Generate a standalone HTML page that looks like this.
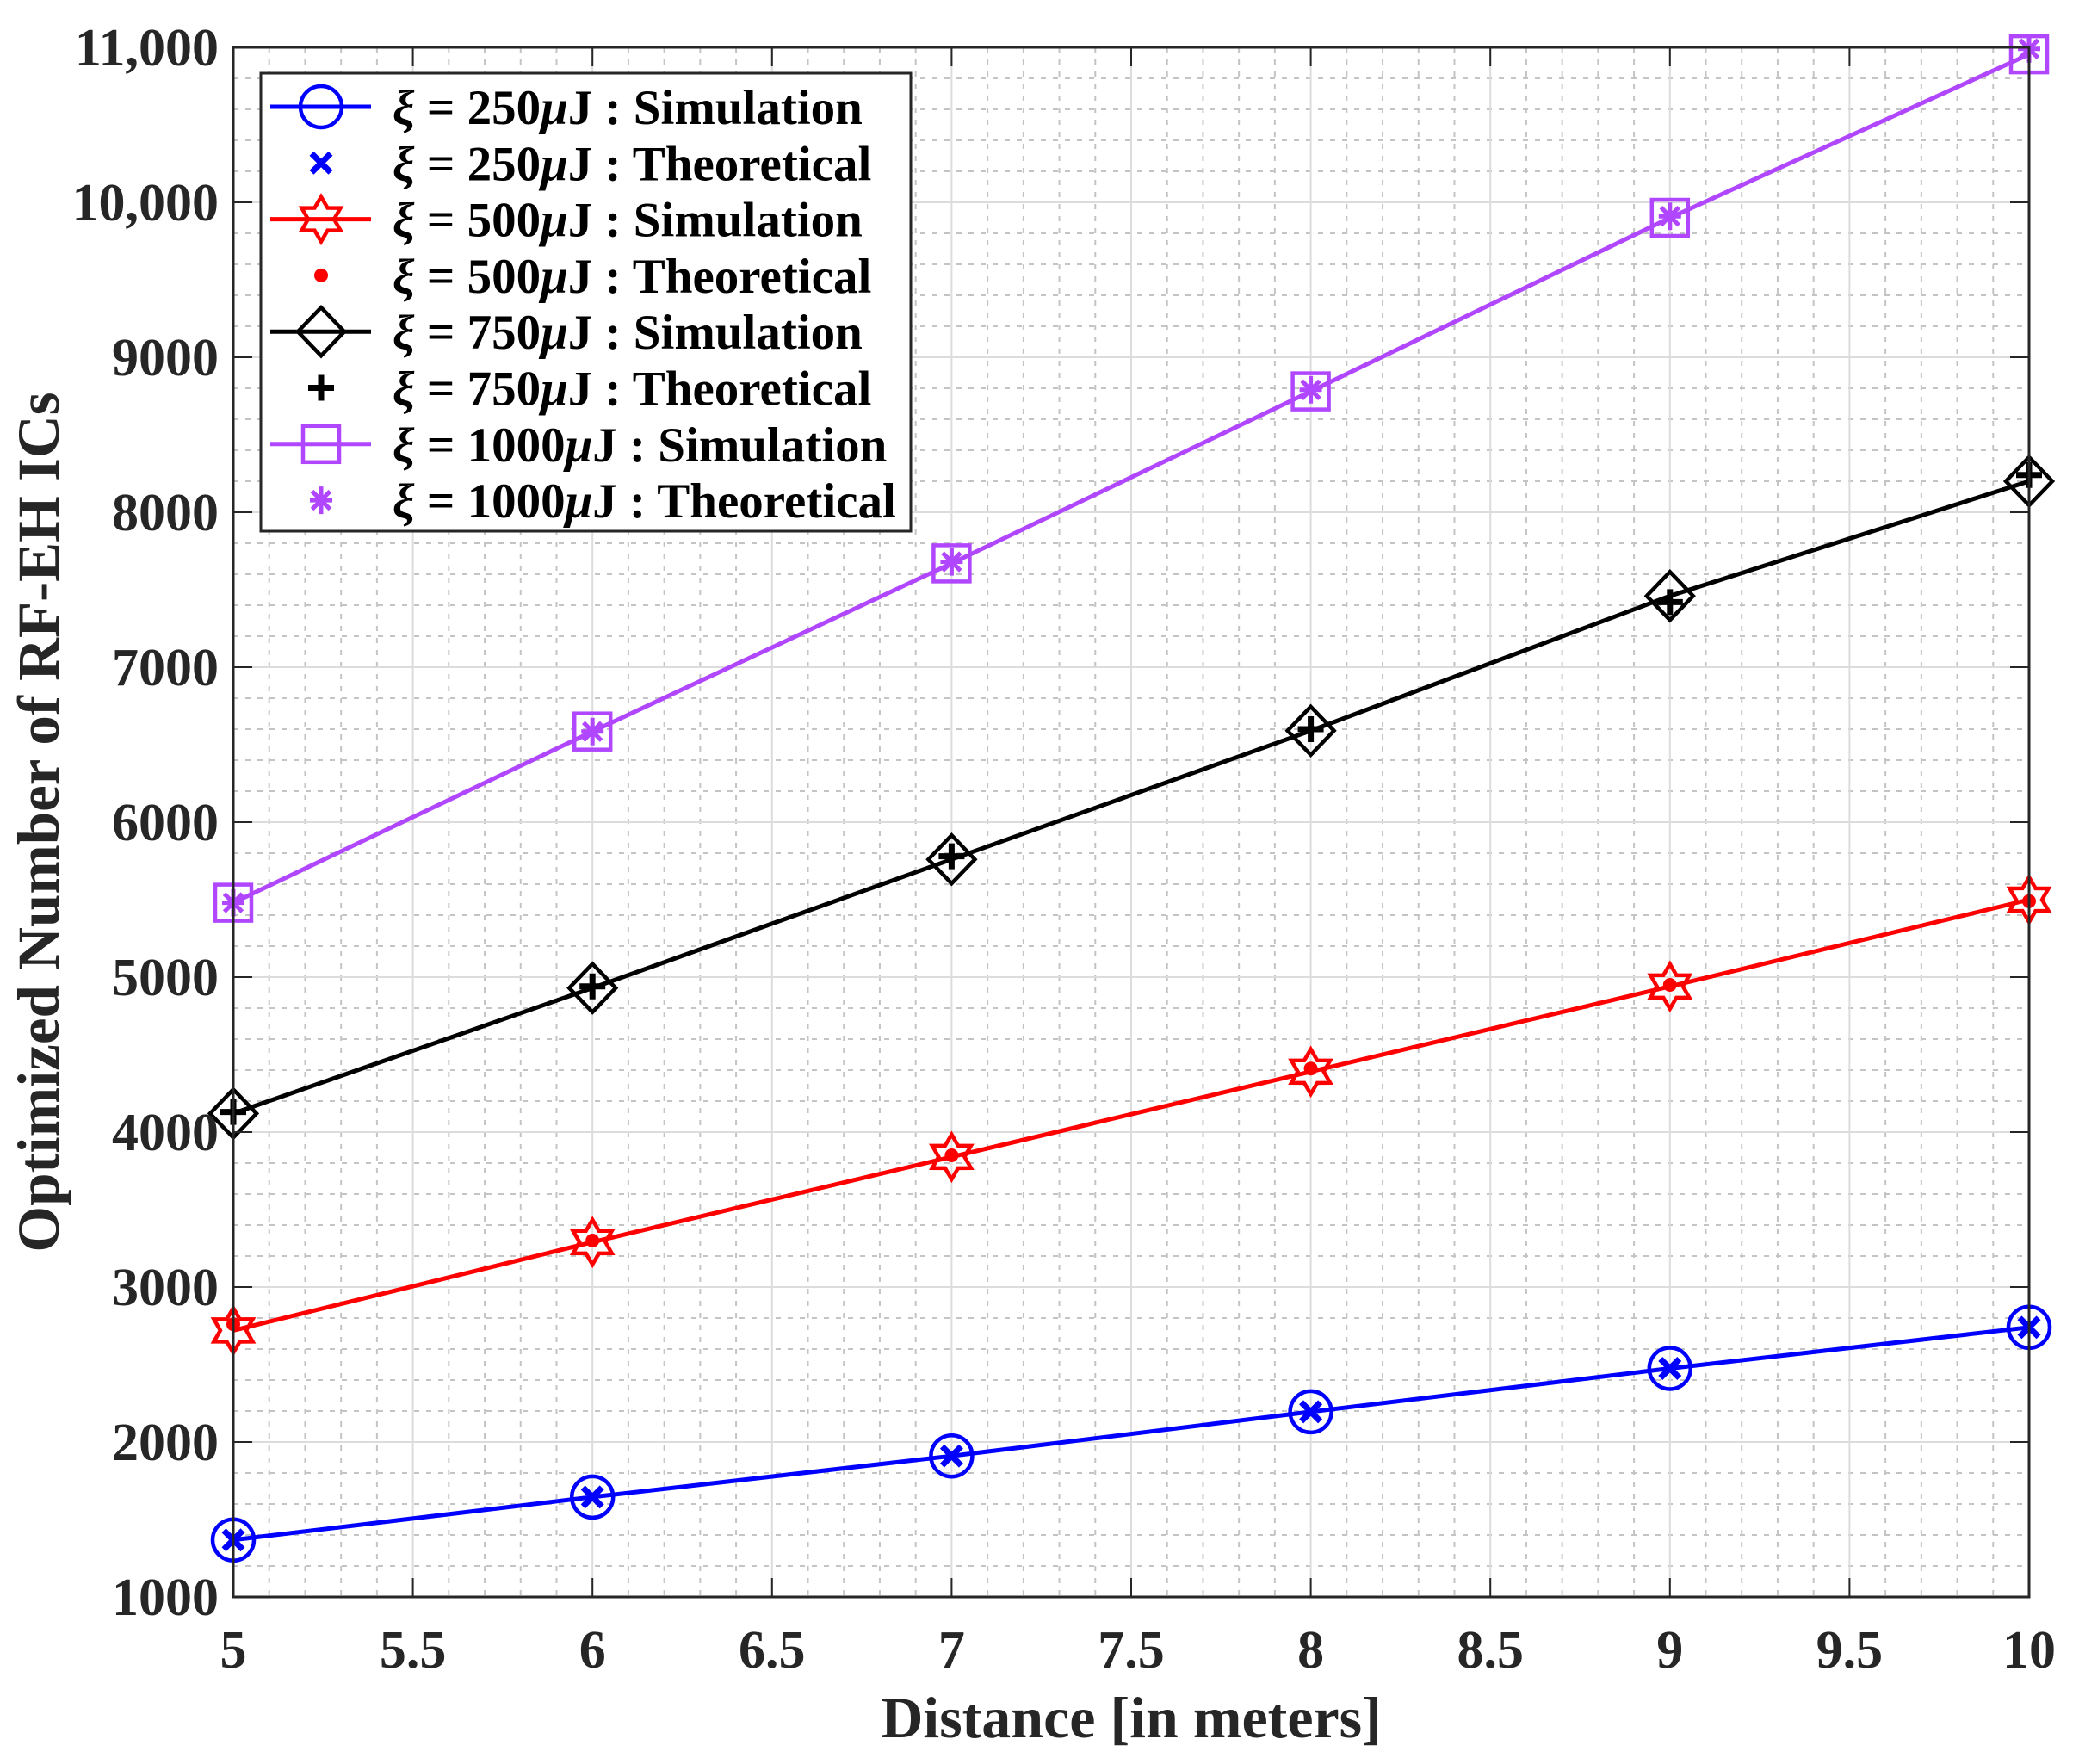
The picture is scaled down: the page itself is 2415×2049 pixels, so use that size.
<!DOCTYPE html>
<html><head><meta charset="utf-8"><style>
html,body{margin:0;padding:0;background:#fff}
svg text{font-family:"Liberation Serif",serif;font-weight:bold;fill:#262626}
</style></head><body>
<svg id="chart" width="2415" height="2044" viewBox="0 0 2415 2044" xmlns="http://www.w3.org/2000/svg">
<g id="grid"></g>
<g id="series"></g>
<g id="axes"></g>
<text x="1314" y="2018" font-size="68" text-anchor="middle">Distance [in meters]</text>
<text transform="translate(68,955) rotate(-90)" font-size="69" text-anchor="middle">Optimized Number of RF-EH ICs</text>
<g id="legend"></g>
</svg>
<script>
const xs = [5, 6, 7, 8, 9, 10];
const simBlue = [1368, 1645, 1910, 2195, 2475, 2740];
const thBlue = [1368, 1645, 1910, 2195, 2475, 2740];
const simRed = [2720, 3290, 3840, 4390, 4940, 5500];
const thRed = [2760, 3300, 3850, 4410, 4950, 5490];
const simBlack = [4120, 4930, 5760, 6590, 7460, 8200];
const thBlack = [4130, 4940, 5780, 6600, 7420, 8240];
const simPurple = [5480, 6585, 7670, 8780, 9900, 10955];
const thPurple = [5480, 6585, 7680, 8790, 9910, 10990];
const xTicks = [5, 5.5, 6, 6.5, 7, 7.5, 8, 8.5, 9, 9.5, 10];
const yTicks = [1000, 2000, 3000, 4000, 5000, 6000, 7000, 8000, 9000, 10000, 11000];
const yTickLabels = ["1000","2000","3000","4000","5000","6000","7000","8000","9000","10,000","11,000"];

const L=271,R=2357,T=55,B=1855;
const sx=v=>L+(v-5)/5*(R-L);
const sy=v=>B-(v-1000)/10000*(B-T);
const NS="http://www.w3.org/2000/svg";
function mk(tag,attrs,parent){const e=document.createElementNS(NS,tag);for(const k in attrs)e.setAttribute(k,attrs[k]);parent.appendChild(e);return e;}
const grid=document.getElementById('grid'),axes=document.getElementById('axes'),ser=document.getElementById('series'),leg=document.getElementById('legend');

for(let i=0;i<=50;i++){const v=5+i*0.1;if(i%5===0)continue;const x=sx(v);
 const l=mk('line',{x1:x,x2:x,y1:T,y2:B,stroke:'#c4c4c4','stroke-width':2,'stroke-dasharray':'6,8'},grid);
 
 }
for(let i=0;i<=50;i++){const v=1000+i*200;if(i%5===0)continue;const y=sy(v);
 const l=mk('line',{x1:L,x2:R,y1:y,y2:y,stroke:'#c4c4c4','stroke-width':2,'stroke-dasharray':'6,8'},grid);
 
 }
xTicks.forEach(v=>{const x=sx(v);
 const l=mk('line',{x1:x,x2:x,y1:T,y2:B,stroke:'#dcdcdc','stroke-width':2},grid);
 
 
 mk('line',{x1:x,x2:x,y1:B,y2:B-22,stroke:'#262626','stroke-width':2},axes);
 mk('line',{x1:x,x2:x,y1:T,y2:T+22,stroke:'#262626','stroke-width':2},axes);
 const t=mk('text',{x:x,y:1937,'font-size':62,'text-anchor':'middle'},axes);t.textContent=String(v);
 
 });
yTicks.forEach((v,i)=>{const y=sy(v);
 const l=mk('line',{x1:L,x2:R,y1:y,y2:y,stroke:'#dcdcdc','stroke-width':2},grid);
 
 
 mk('line',{x1:L,x2:L+22,y1:y,y2:y,stroke:'#262626','stroke-width':2},axes);
 mk('line',{x1:R,x2:R-22,y1:y,y2:y,stroke:'#262626','stroke-width':2},axes);
 const t=mk('text',{x:254,y:y+21,'font-size':62,'text-anchor':'end'},axes);t.textContent=yTickLabels[i];
 
 });
const fr=mk('rect',{x:L,y:T,width:R-L,height:B-T,fill:'none',stroke:'#262626','stroke-width':3},axes);



function marker(type,x,y,color,parent){
 const g=mk('g',{},parent);
 const sw=4.5;
 if(type==='circle')mk('circle',{cx:x,cy:y,r:24,fill:'none',stroke:color,'stroke-width':sw},g);
 if(type==='x'){const s=11;mk('path',{d:`M${x-s},${y-s}L${x+s},${y+s}M${x-s},${y+s}L${x+s},${y-s}`,stroke:color,'stroke-width':7},g);}
 if(type==='star'){const r=26;
   let pts=[];for(let k=0;k<12;k++){const a=-Math.PI/2+k*Math.PI/6;const rr=k%2===0?r:r*0.58;pts.push((x+rr*Math.cos(a))+','+(y+rr*Math.sin(a)));}
   mk('polygon',{points:pts.join(' '),fill:'none',stroke:color,'stroke-width':sw},g);}
 if(type==='dot')mk('circle',{cx:x,cy:y,r:8,fill:color},g);
 if(type==='diamond')mk('polygon',{points:`${x},${y-28} ${x+27},${y} ${x},${y+28} ${x-27},${y}`,fill:'none',stroke:color,'stroke-width':sw},g);
 if(type==='plus'){const s=15;mk('path',{d:`M${x-s},${y}L${x+s},${y}M${x},${y-s}L${x},${y+s}`,stroke:color,'stroke-width':7},g);}
 if(type==='square')mk('rect',{x:x-21,y:y-21,width:42,height:42,fill:'none',stroke:color,'stroke-width':sw},g);
 if(type==='asterisk'){const s=13;mk('path',{d:`M${x-s},${y}L${x+s},${y}M${x},${y-s-3}L${x},${y+s+3}M${x-s*0.8},${y-s*0.8}L${x+s*0.8},${y+s*0.8}M${x-s*0.8},${y+s*0.8}L${x+s*0.8},${y-s*0.8}`,stroke:color,'stroke-width':5},g);}
 return g;
}
const seriesList=[
 {name:'blue-250',color:'#0000ff',sim:simBlue,th:thBlue,sm:'circle',tm:'x'},
 {name:'red-500',color:'#ff0000',sim:simRed,th:thRed,sm:'star',tm:'dot'},
 {name:'black-750',color:'#000000',sim:simBlack,th:thBlack,sm:'diamond',tm:'plus'},
 {name:'purple-1000',color:'#b146ff',sim:simPurple,th:thPurple,sm:'square',tm:'asterisk'}];
seriesList.forEach(s=>{
 const pl=mk('polyline',{points:xs.map((x,i)=>sx(x)+','+sy(s.sim[i])).join(' '),fill:'none',stroke:s.color,'stroke-width':5},ser);
 
 
 xs.forEach((x,i)=>{const m=marker(s.sm,sx(x),sy(s.sim[i]),s.color,ser);
  
  });
 xs.forEach((x,i)=>{const m=marker(s.tm,sx(x),sy(s.th[i]),s.color,ser);
  
  });
});
const lb=mk('rect',{x:303,y:85,width:755,height:532,fill:'#fff',stroke:'#262626','stroke-width':3},leg);


const labels=['250','250','500','500','750','750','1000','1000'];
for(let i=0;i<8;i++){
 const s=seriesList[Math.floor(i/2)];const y=124+i*65.3;const sim=i%2===0;
 const g=mk('g',{},leg);
 
 
 if(sim)mk('line',{x1:314,x2:431,y1:y,y2:y,stroke:s.color,'stroke-width':5},g);
 marker(sim?s.sm:s.tm,373,y,s.color,g);
 const t=mk('text',{x:456,y:y+20,'font-size':57},g);
 t.innerHTML='<tspan font-style="italic" fill="#000">ξ</tspan><tspan fill="#000"> = '+labels[i]+'</tspan><tspan font-style="italic" fill="#000">μ</tspan><tspan fill="#000">J : '+(sim?'Simulation':'Theoretical')+'</tspan>';
}
</script>
</body></html>
